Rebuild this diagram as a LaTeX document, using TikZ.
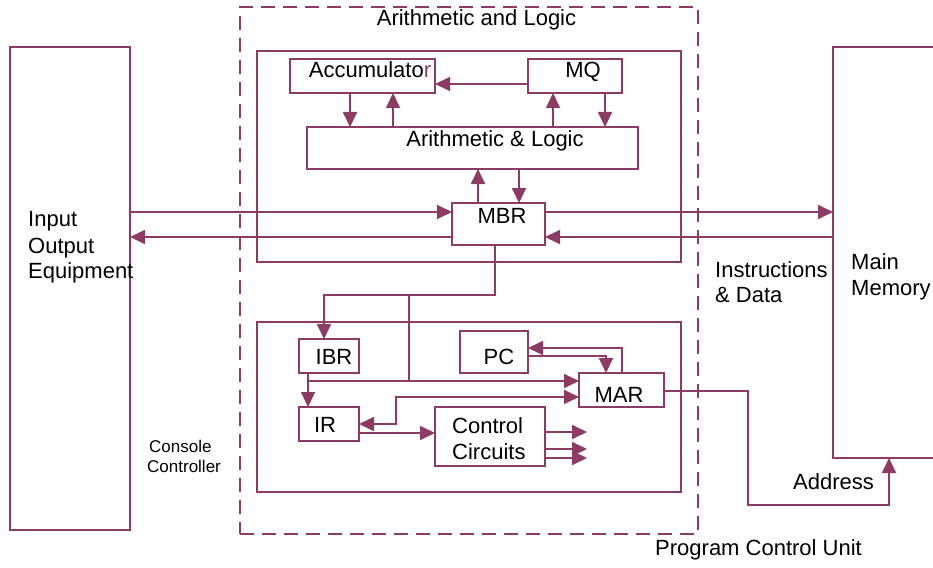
\documentclass[tikz,border=0pt]{standalone}
\usepackage{fontspec}
\setmainfont{Liberation Sans}
\usetikzlibrary{arrows.meta}
\definecolor{mc}{RGB}{140,60,100}
\tikzset{
  box/.style={draw=mc, line width=1.8pt, rectangle, inner sep=0pt, outer sep=0pt, anchor=north west},
  conn/.style={draw=mc, line width=1.8pt},
  arr/.style={conn, -{Triangle[length=15pt,width=14pt]}},
  darr/.style={conn, {Triangle[length=15pt,width=14pt]}-{Triangle[length=15pt,width=14pt]}},
  lbl/.style={inner sep=0pt, font=\fontsize{22}{26}\selectfont, text=black},
  slbl/.style={inner sep=0pt, font=\fontsize{17}{20}\selectfont, text=black},
}
\begin{document}
\begin{tikzpicture}[x=1pt,y=-1pt]
\useasboundingbox (0,0) rectangle (933,567);
% helper coordinates
\foreach \v in {84,212,237,295,348,356,381,391,397,424,432,433,449,458,505}{\coordinate (y\v) at (0,\v);}
\foreach \v in {308,324,350,393,396,409,478,495,519,553,587,605,606,622,748,889}{\coordinate (x\v) at (\v,0);}

% boxes
\node[box, minimum width=120pt, minimum height=483pt] (io) at (10,47) {};
\node[box, minimum width=160pt, minimum height=411pt] (mem) at (833,47) {};
\node[box, draw=mc, dash pattern=on 14pt off 8pt, minimum width=458pt, minimum height=527pt] (cpu) at (240,7) {};
\node[box, minimum width=424pt, minimum height=211pt] (alu) at (257,51) {};
\node[box, minimum width=145pt, minimum height=34pt] (acc) at (290,59) {};
\node[box, minimum width=94pt, minimum height=34pt] (mq) at (528,59) {};
\node[box, minimum width=331pt, minimum height=42pt] (al) at (307,127) {};
\node[box, minimum width=93pt, minimum height=42pt] (mbr) at (452,203) {};
\node[box, minimum width=424pt, minimum height=170pt] (pcu) at (257,322) {};
\node[box, minimum width=60pt, minimum height=34pt] (ibr) at (299,339) {};
\node[box, minimum width=68pt, minimum height=42pt] (pc) at (460,331) {};
\node[box, minimum width=85pt, minimum height=34pt] (mar) at (579,373) {};
\node[box, minimum width=60pt, minimum height=34pt] (ir) at (299,407) {};
\node[box, minimum width=110pt, minimum height=59pt] (ctrl) at (435,407) {};

% labels
\node[lbl, anchor=base] (tAL) at (476.5,26) {Arithmetic and Logic};
\node[lbl, anchor=base] (tacc) at (370,78) {Accumulato\textcolor{mc}{r}};
\node[lbl, anchor=base] (tmq) at (583,78) {MQ};
\node[lbl, anchor=base] (tal) at (495,146) {Arithmetic \& Logic};
\node[lbl, anchor=base] (tmbr) at (502,223) {MBR};
\node[lbl, anchor=base] (tibr) at (334,364) {IBR};
\node[lbl, anchor=base] (tpc) at (499,364) {PC};
\node[lbl, anchor=base] (tmar) at (619,402) {MAR};
\node[lbl, anchor=base] (tir) at (325,432) {IR};
\node[lbl, anchor=base west] (tc1) at (452,433) {Control};
\node[lbl, anchor=base west] (tc2) at (452,459) {Circuits};
\node[lbl, anchor=base west] (tio1) at (28,226) {Input};
\node[lbl, anchor=base west] (tio2) at (28,253) {Output};
\node[lbl, anchor=base west] (tio3) at (28,278) {Equipment};
\node[slbl, anchor=base west] (tcc1) at (149,452) {Console};
\node[slbl, anchor=base west] (tcc2) at (147,472) {Controller};
\node[lbl, anchor=base west] (tid1) at (715,277) {Instructions};
\node[lbl, anchor=base west] (tid2) at (715,302) {\& Data};
\node[lbl, anchor=base west] (tmm1) at (851,269) {Main};
\node[lbl, anchor=base west] (tmm2) at (851,295) {Memory};
\node[lbl, anchor=base west] (taddr) at (793,489) {Address};
\node[lbl, anchor=base west] (tpcu) at (655,555) {Program Control Unit};

% control output ends
\coordinate (o1) at (587,432);
\coordinate (o2) at (587,449);
\coordinate (o3) at (587,458);

% connectors: ALU part
\draw[arr] (x350 |- acc.south) -- (x350 |- al.north);
\draw[arr] (x393 |- al.north) -- (x393 |- acc.south);
\draw[arr] (x553 |- al.north) -- (x553 |- mq.south);
\draw[arr] (x605 |- mq.south) -- (x605 |- al.north);
\draw[arr] (mq.west |- y84) -- (acc.east |- y84);
\draw[arr] (x478 |- mbr.north) -- (x478 |- al.south);
\draw[arr] (x519 |- al.south) -- (x519 |- mbr.north);
% MBR data paths
\draw[arr] (io.east |- y212) -- (mbr.west |- y212);
\draw[arr] (mbr.east |- y212) -- (mem.west |- y212);
\draw[arr] (mem.west |- y237) -- (mbr.east |- y237);
\draw[arr] (mbr.west |- y237) -- (io.east |- y237);
% MBR to IBR / MAR
\draw[arr] (x495 |- mbr.south) -- (x495 |- y295) -- (x324 |- y295) -- (x324 |- ibr.north);
\draw[conn] (x409 |- y295) -- (x409 |- y381);
\draw[arr] (x308 |- y381) -- (mar.west |- y381);
\draw[arr] (x308 |- ibr.south) -- (x308 |- ir.north);
% PC <-> MAR
\draw[arr] (x622 |- mar.north) -- (x622 |- y348) -- (pc.east |- y348);
\draw[arr] (pc.east |- y356) -- (x606 |- y356) -- (x606 |- mar.north);
% IR <-> MAR
\draw[darr] (mar.west |- y397) -- (x396 |- y397) -- (x396 |- y424) -- (ir.east |- y424);
% IR -> Control
\draw[arr] (ir.east |- y433) -- (ctrl.west |- y433);
% control outputs
\draw[arr] (ctrl.east |- o1) -- (o1);
\draw[arr] (ctrl.east |- o2) -- (o2);
\draw[arr] (ctrl.east |- o3) -- (o3);
% MAR -> Main memory address
\draw[arr] (mar.east |- y391) -- (x748 |- y391) -- (x748 |- y505) -- (x889 |- y505) -- (x889 |- mem.south);
\end{tikzpicture}
\end{document}
